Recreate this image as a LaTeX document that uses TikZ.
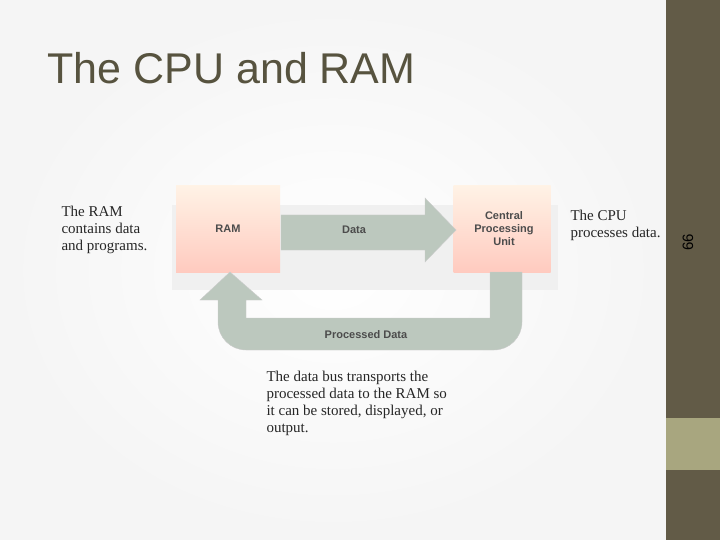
\documentclass[tikz,border=0pt]{standalone}
\usepackage{fontspec}
\setmainfont{Liberation Serif}
\newfontfamily\sansf{Liberation Sans}
\definecolor{side}{HTML}{625B47}
\definecolor{band}{HTML}{A8A67F}
\definecolor{ttl}{HTML}{57533F}
\definecolor{arrc}{HTML}{BCC8BE}
\begin{document}
\begin{tikzpicture}[x=1pt,y=-1pt,
  box/.style={draw=none,top color=orange!10,bottom color=orange!35!red!25,minimum width=104pt,minimum height=86pt},
  arr/.style={fill=arrc,draw=gray!40},
  lbl/.style={font=\sansf\fontsize{11}{13}\selectfont\bfseries,text=black!70},
  note/.style={font=\fontsize{15}{17}\selectfont,align=left,text=black!85}]
\useasboundingbox (0,0) rectangle (720,540);
\shade[inner color=white,outer color=white!92!gray] (0,0) rectangle (666,540);
\fill[side] (666,0) rectangle (720,540);
\fill[band] (666,418) rectangle (720,470);
\node[font=\sansf\fontsize{15}{17}\selectfont,rotate=90] (pg) at (688,242) {66};
\node[font=\sansf\fontsize{43}{46}\selectfont,text=ttl,anchor=base west] (title) at (44,84) {The CPU and RAM};
% shadows
\fill[gray!12] (172,205) rectangle (558,290);
\node[box] (ram) at (228,229) {};
\node[box,minimum width=97pt] (cpu) at (502,229) {};
\draw[arr] (281,215) -- (425,215) -- (425,198) -- (456,230) -- (425,262) -- (425,250) -- (281,250) -- cycle;
\draw[arr] (490,272) -- (522,272) -- (522,322) arc[start angle=0,end angle=90,radius=28] -- (246,350) arc[start angle=90,end angle=180,radius=28] -- (218,300) -- (200,300) -- (230,272) -- (262,300) -- (246,300) -- (246,318) -- (490,318) -- cycle;
\node[lbl] (tram) at (228,229) {RAM};
\node[lbl,align=center] (tcpu) at (504,229) {Central\\Processing\\Unit};
\node[lbl] (tdata) at (354,230) {Data};
\node[lbl] (tproc) at (366,335) {Processed Data};
\node[note,anchor=north west] (n1) at (58,203) {The RAM\\contains data\\and programs.};
\node[note,anchor=north west] (n2) at (567,207) {The CPU\\processes data.};
\node[note,anchor=north west] (n3) at (263,368) {The data bus transports the\\processed data to the RAM so\\it can be stored, displayed, or\\output.};
\end{tikzpicture}
\end{document}
